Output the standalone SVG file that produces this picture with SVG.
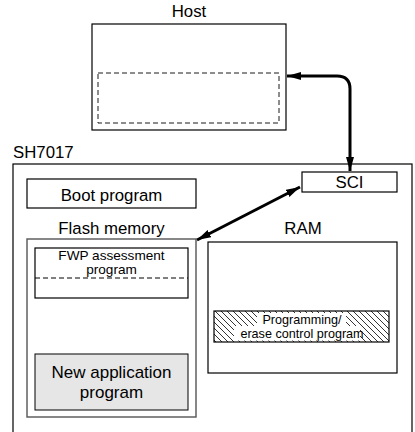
<svg xmlns="http://www.w3.org/2000/svg" width="415" height="432" viewBox="0 0 415 432">
<style>
text{font-family:"Liberation Sans",Arial,sans-serif;fill:#000}
.box{fill:#fff;stroke:#000;stroke-width:1.2}
.lbl{font-size:16.8px}
.mid{text-anchor:middle}
.conn{fill:none;stroke:#000;stroke-width:3}
</style>
<defs>
<marker id="ah" markerUnits="userSpaceOnUse" markerWidth="16" markerHeight="10" refX="14" refY="5" orient="auto-start-reverse">
<path d="M0,1 L14,5 L0,9 Z" fill="#000"/>
</marker>
<pattern id="hatch" patternUnits="userSpaceOnUse" width="6" height="6">
<path d="M0,0 L6,6 M-1,5 L1,7 M5,-1 L7,1" stroke="#000" stroke-width="0.8"/>
</pattern>
</defs>
<g id="host">
<text class="lbl mid" x="189" y="17">Host</text>
<rect class="box" x="92" y="24" width="194" height="106"/>
<rect x="98" y="73" width="181" height="50" fill="none" stroke="#000" stroke-width="0.9" stroke-dasharray="5,3"/>
</g>
<g id="sh7017">
<text class="lbl" x="13" y="158">SH7017</text>
<rect class="box" x="13" y="164" width="399" height="275"/>
</g>
<g id="sci">
<rect class="box" x="302" y="172" width="95" height="20"/>
<text class="lbl mid" x="349.5" y="188">SCI</text>
</g>
<g id="boot">
<rect class="box" x="27" y="179" width="169" height="29"/>
<text class="lbl mid" x="111.5" y="201">Boot program</text>
</g>
<g id="flash">
<text class="lbl mid" x="111.5" y="234">Flash memory</text>
<rect x="27" y="239" width="169" height="178" fill="#fff" stroke="#555" stroke-width="1.4"/>
</g>
<g id="fwp">
<rect class="box" x="35" y="248" width="153" height="50"/>
<line x1="35" y1="278" x2="188" y2="278" stroke="#000" stroke-width="1" stroke-dasharray="5,3"/>
<text class="mid" x="111.5" y="259.5" font-size="13.6">FWP assessment</text>
<text class="mid" x="111.5" y="274" font-size="13.6">program</text>
</g>
<g id="newapp">
<rect x="35" y="354" width="153" height="56" fill="#e6e6e6" stroke="#000" stroke-width="1"/>
<text class="mid" x="111.5" y="378" font-size="17">New application</text>
<text class="mid" x="111.5" y="397.5" font-size="17">program</text>
</g>
<g id="ram">
<text class="lbl mid" x="303" y="234">RAM</text>
<rect class="box" x="208" y="242" width="189" height="131"/>
</g>
<g id="erase">
<rect x="214" y="311" width="175" height="31" fill="#fff"/>
<rect x="214" y="311" width="175" height="31" fill="url(#hatch)" stroke="#000" stroke-width="1.2"/>
<rect x="257" y="313" width="89" height="13" fill="#fff"/>
<rect x="234" y="326" width="126" height="14.5" fill="#fff"/>
<text class="mid" x="302" y="324" font-size="12.6">Programming/</text>
<text class="mid" x="302" y="338" font-size="12.6">erase control program</text>
</g>
<g id="connectors">
<path class="conn" d="M337,76 Q350,76 350,89 L350,171" marker-end="url(#ah)"/>
<path class="conn" d="M287,76 L337,76" marker-start="url(#ah)"/>
<path class="conn" d="M300,187 L197,240" marker-start="url(#ah)" marker-end="url(#ah)"/>
</g>
</svg>
